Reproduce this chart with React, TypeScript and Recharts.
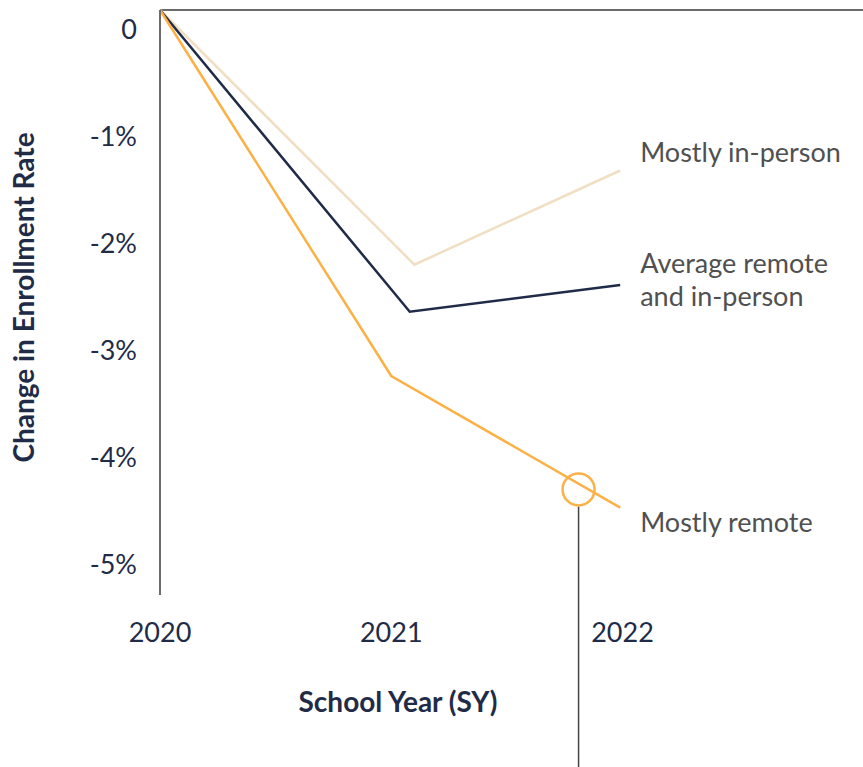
import React from 'react';
import { LineChart, Line, XAxis, YAxis, ReferenceLine, ReferenceDot } from 'recharts';

// x positions are school years; the reference draws each series' 2021/2022 vertices slightly apart
const inPersonYears = [2020, 2021.1, 2021.99];
const inPersonValues = [0, -2.38, -1.5];
const averageYears = [2020, 2021.08, 2021.99];
const averageValues = [0, -2.82, -2.57];
const remoteYears = [2020, 2021.0, 2021.99];
const remoteValues = [0, -3.42, -4.65];

const yearTicks = [2020, 2021, 2022];
const rateTicks = [0, -1, -2, -3, -4, -5];

const highlightYear = 2021.81;
const highlightValue = -4.48;

const NAVY = '#1f2b47';
const BEIGE = '#f0dfc2';
const ORANGE = '#fbb146';
const LABEL_GRAY = '#505050';
const AXIS_GRAY = '#6b6b6b';
const FONT = 'Lato, "Noto Sans", sans-serif';

const toRows = (years: number[], values: number[]) => years.map((year, i) => ({ year, value: values[i] }));

const inPersonData = toRows(inPersonYears, inPersonValues);
const averageData = toRows(averageYears, averageValues);
const remoteData = toRows(remoteYears, remoteValues);

const fmtRate = (v: number) => (v === 0 ? '0' : `${v}%`);

const YTick = ({ x, y, payload }: any) => (
  <text x={x} y={y} dx={-23} dy={29} textAnchor="end" fill={NAVY} fontSize={27} fontFamily={FONT}>
    {fmtRate(payload.value)}
  </text>
);

const XTick = ({ x, y, payload }: any) => (
  <text x={x} y={y} dy={47} textAnchor="middle" fill={NAVY} fontSize={27} fontFamily={FONT}>
    {payload.value}
  </text>
);

// series name written just right of the line's last point, one <text> per line
const endLabel = (lines: string[], dy: number, last: number) => (props: any) => {
  const { x, y, index } = props;
  if (index !== last) return null;
  return (
    <g>
      {lines.map((line, i) => (
        <text key={line} x={x + 20} y={y + dy + i * 33} fill={LABEL_GRAY} fontSize={27} fontFamily={FONT}>
          {line}
        </text>
      ))}
    </g>
  );
};

const App: React.FC = () => {
  return (
    <div>
      <style>{'body{margin:0}'}</style>
      <LineChart width={863} height={767} margin={{ top: 10, right: 0, left: 0, bottom: 0 }}>
        <XAxis
          type="number"
          dataKey="year"
          domain={[2020, 2023.04]}
          ticks={yearTicks}
          allowDuplicatedCategory={false}
          axisLine={false}
          tickLine={false}
          tickSize={0}
          tickMargin={0}
          height={172}
          tick={<XTick />}
          label={(p: any) => (
            <text
              x={p.viewBox.x + 238}
              y={p.viewBox.y + 117}
              textAnchor="middle"
              fill={NAVY}
              fontSize={28}
              fontWeight={700}
              fontFamily={FONT}
            >
              School Year (SY)
            </text>
          )}
        />
        <YAxis
          type="number"
          domain={[-5.467, 0]}
          ticks={rateTicks}
          width={160}
          axisLine={{ stroke: AXIS_GRAY, strokeWidth: 2 }}
          tickLine={false}
          tickSize={0}
          tickMargin={0}
          tick={<YTick />}
          label={(p: any) => {
            const cx = p.viewBox.x + 23;
            const cy = p.viewBox.y + p.viewBox.height / 2 - 5;
            return (
              <text
                x={cx}
                y={cy}
                transform={`rotate(-90 ${cx} ${cy})`}
                textAnchor="middle"
                dominantBaseline="central"
                fill={NAVY}
                fontSize={28}
                fontWeight={700}
                fontFamily={FONT}
              >
                Change in Enrollment Rate
              </text>
            );
          }}
        />
        <ReferenceLine y={0} stroke={AXIS_GRAY} strokeWidth={2} />
        <Line
          data={inPersonData}
          dataKey="value"
          stroke={BEIGE}
          strokeWidth={2.5}
          dot={false}
          isAnimationActive={false}
          label={endLabel(['Mostly in-person'], -9, inPersonData.length - 1)}
        />
        <Line
          data={averageData}
          dataKey="value"
          stroke={NAVY}
          strokeWidth={2.5}
          dot={false}
          isAnimationActive={false}
          label={endLabel(['Average remote', 'and in-person'], -12, averageData.length - 1)}
        />
        <Line
          data={remoteData}
          dataKey="value"
          stroke={ORANGE}
          strokeWidth={2.5}
          dot={false}
          isAnimationActive={false}
          label={endLabel(['Mostly remote'], 24, remoteData.length - 1)}
        />
        <ReferenceLine
          segment={[
            { x: highlightYear, y: highlightValue - 0.16 },
            { x: highlightYear, y: -7.2 },
          ]}
          stroke="#444"
          strokeWidth={1.5}
          ifOverflow="visible"
        />
        <ReferenceDot
          x={highlightYear}
          y={highlightValue}
          r={16}
          fill="none"
          stroke={ORANGE}
          strokeWidth={2.5}
          ifOverflow="visible"
        />
      </LineChart>
    </div>
  );
};

export default App;
